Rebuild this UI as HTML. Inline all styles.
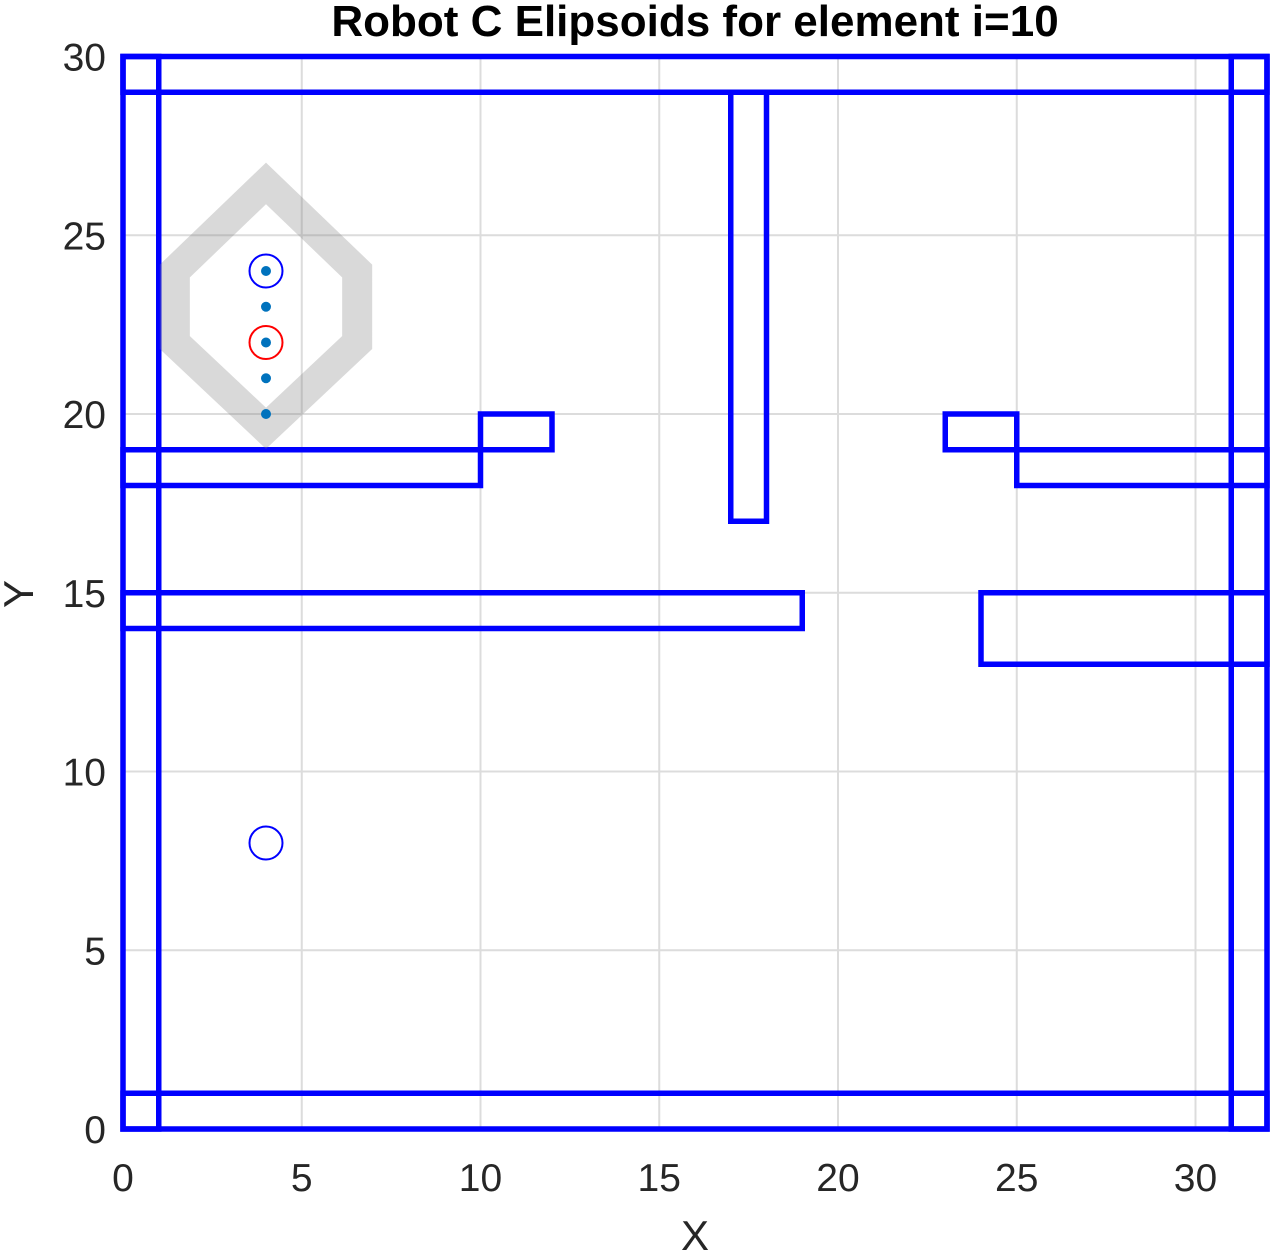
<!DOCTYPE html>
<html><head><meta charset="utf-8"><style>
html,body{margin:0;padding:0;background:#fff;}
svg{display:block;font-family:"Liberation Sans",Arial,sans-serif;}
</style></head><body>
<svg id="chart" width="1273" height="1252" viewBox="0 0 1273 1252" xmlns="http://www.w3.org/2000/svg">
<g id="grid"></g>
<g id="obst"></g>
<g id="marks"></g>
<g id="axes"></g>
<text x="695" y="36" text-anchor="middle" font-size="44" font-weight="bold" fill="#000">Robot C Elipsoids for element i=10</text>
<text x="695" y="1250" text-anchor="middle" font-size="42" fill="#262626">X</text>
<text transform="translate(33,594) rotate(-90)" text-anchor="middle" font-size="42" fill="#262626">Y</text>
</svg>
<script>
const xTicks=[0,5,10,15,20,25,30];
const yTicks=[0,5,10,15,20,25,30];
const obstacles=[[0,1,0,30],[0,32,29,30],[0,32,0,1],[31,32,0,30],[0,10,18,19],[10,12,19,20],[17,18,17,29],[23,25,19,20],[25,32,18,19],[0,19,14,15],[24,32,13,15]];
const hexX=[4,6.55,6.55,4,1.45,1.45];
const hexY=[26.45,24.0,22.0,19.6,22.0,24.0];
const pathX=[4,4,4,4,4];
const pathY=[20,21,22,23,24];
const blueCircX=[4,4];
const blueCircY=[24,8];
const redCircX=[4];
const redCircY=[22];
const X0=123,Y0=1129,S=35.75;
const sx=v=>X0+v*S, sy=v=>Y0-v*S;
const NS='http://www.w3.org/2000/svg';
function mk(tag,attrs,parent){const e=document.createElementNS(NS,tag);for(const k in attrs)e.setAttribute(k,attrs[k]);parent.appendChild(e);return e;}
const grid=document.getElementById('grid'),obst=document.getElementById('obst'),marks=document.getElementById('marks'),axes=document.getElementById('axes');
xTicks.forEach(t=>{
 const l=mk('line',{x1:sx(t),x2:sx(t),y1:sy(0),y2:sy(30),stroke:'#dcdcdc','stroke-width':2},grid);
 
 
 const tx=mk('text',{x:sx(t),y:1191,'text-anchor':'middle','font-size':39,fill:'#262626'},axes);
 tx.textContent=t;
 
 
});
yTicks.forEach(t=>{
 const l=mk('line',{x1:sx(0),x2:sx(32),y1:sy(t),y2:sy(t),stroke:'#dcdcdc','stroke-width':2},grid);
 
 
 const tx=mk('text',{x:106,y:sy(t)+14,'text-anchor':'end','font-size':39,fill:'#262626'},axes);
 tx.textContent=t;
 
 
});
const hp=hexX.map((x,i)=>sx(x)+','+sy(hexY[i])).join(' ');
const hex=mk('polygon',{points:hp,fill:'none',stroke:'rgba(128,128,128,0.3)','stroke-width':30,'stroke-linejoin':'miter'},marks);


obstacles.forEach(o=>{
 const r=mk('rect',{x:sx(o[0]),y:sy(o[3]),width:(o[1]-o[0])*S,height:(o[3]-o[2])*S,fill:'none',stroke:'#0000ff','stroke-width':5.5},obst);
 
 
});
pathX.forEach((x,i)=>{
 const c=mk('circle',{cx:sx(x),cy:sy(pathY[i]),r:5,fill:'#0072bd'},marks);
 
 
});
blueCircX.forEach((x,i)=>{
 const c=mk('circle',{cx:sx(x),cy:sy(blueCircY[i]),r:16.5,fill:'none',stroke:'#0000ff','stroke-width':2},marks);
 
 
});
redCircX.forEach((x,i)=>{
 const c=mk('circle',{cx:sx(x),cy:sy(redCircY[i]),r:16.5,fill:'none',stroke:'#ff0000','stroke-width':2},marks);
 
 
});
</script>
</body></html>
